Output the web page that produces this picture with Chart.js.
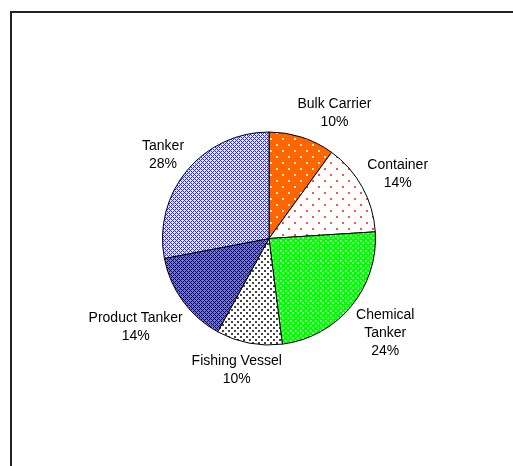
<!DOCTYPE html>
<html>
<head>
<meta charset="utf-8">
<script src="https://cdn.jsdelivr.net/npm/chart.js@4.4.1/dist/chart.umd.min.js"></script>
<style>
  body { margin: 0; background: #fff; }
  #wrap { position: relative; width: 513px; height: 466px; overflow: hidden; }
</style>
</head>
<body>
<div id="wrap"><canvas id="pie" width="513" height="466"></canvas></div>
<script>
const categories = ['Bulk Carrier', 'Container', 'Chemical Tanker', 'Fishing Vessel', 'Product Tanker', 'Tanker'];
const shares = [10, 14, 24, 10, 14, 28];

// pixel tiles standing in for the Excel fill patterns
function dotTile(bg, fg, size, dot) {
  const c = document.createElement('canvas');
  c.width = size; c.height = size;
  const g = c.getContext('2d');
  g.fillStyle = bg;
  g.fillRect(0, 0, size, size);
  g.fillStyle = fg;
  g.fillRect(0, 0, dot, dot);
  g.fillRect(size / 2, size / 2, dot, dot);
  return g.createPattern(c, 'repeat');
}

function hatchTile(bg, fg, size) {
  const c = document.createElement('canvas');
  c.width = size; c.height = size;
  const g = c.getContext('2d');
  g.fillStyle = bg;
  g.fillRect(0, 0, size, size);
  g.fillStyle = fg;
  for (let x = 0; x < size; x++) {
    for (let y = 0; y < size; y++) {
      if ((x + y) % size === 0 || (x - y + size) % size === 0) g.fillRect(x, y, 1, 1);
    }
  }
  return g.createPattern(c, 'repeat');
}

const fills = [
  dotTile('#ff6600', '#ffe6d6', 12, 2),
  dotTile('#ffffff', '#ff5050', 12, 2),
  dotTile('#00ff00', '#e6ffe6', 5, 1.5),
  dotTile('#ffffff', '#444444', 6, 2),
  hatchTile('#7878c0', '#000080', 4),
  hatchTile('#e4e4ff', '#2828ff', 4),
];

// small hand nudges so the text sits where Excel's best-fit put it
const labelNudge = [[18, 3], [0, 0], [4, 3], [-2, 0], [-1, 10], [0, 2]];

const frame = {
  id: 'frame',
  beforeDraw(chart) {
    const ctx = chart.ctx;
    ctx.save();
    ctx.strokeStyle = '#222';
    ctx.lineWidth = 2;
    ctx.beginPath();
    ctx.moveTo(11, 470);
    ctx.lineTo(11, 12);
    ctx.lineTo(520, 12);
    ctx.stroke();
    ctx.restore();
  }
};

const outsideLabels = {
  id: 'outsideLabels',
  afterDatasetsDraw(chart) {
    const ctx = chart.ctx;
    const total = shares.reduce((a, b) => a + b, 0);
    ctx.save();
    ctx.font = '14px "Liberation Sans", Arial, sans-serif';
    ctx.fillStyle = '#000';
    ctx.textAlign = 'center';
    ctx.textBaseline = 'middle';
    const lineH = 18;
    chart.getDatasetMeta(0).data.forEach((arc, i) => {
      const { x, y, startAngle, endAngle, outerRadius } = arc.getProps(['x', 'y', 'startAngle', 'endAngle', 'outerRadius'], true);
      const mid = (startAngle + endAngle) / 2;
      const dx = Math.cos(mid), dy = Math.sin(mid);
      const name = categories[i];
      const lines = ctx.measureText(name).width > 100 ? name.split(' ') : [name];
      lines.push(Math.round(shares[i] / total * 100) + '%');
      const w = Math.max(...lines.map(l => ctx.measureText(l).width));
      const h = lines.length * lineH;
      const ax = x + dx * (outerRadius + 10);
      const ay = y + dy * (outerRadius + 10);
      const cx = ax + dx * w / 2 + labelNudge[i][0];
      const cy = ay + dy * h / 2 + labelNudge[i][1];
      lines.forEach((l, k) => {
        ctx.fillText(l, cx, cy - h / 2 + lineH * (k + 0.5));
      });
    });
    ctx.restore();
  }
};

new Chart(document.getElementById('pie'), {
  type: 'pie',
  data: {
    labels: categories,
    datasets: [{
      data: shares,
      backgroundColor: fills,
      borderColor: '#000',
      borderWidth: 1,
      borderAlign: 'center',
    }]
  },
  options: {
    responsive: false,
    animation: false,
    layout: { padding: { left: 162, right: 137, top: 131, bottom: 120 } },
    plugins: {
      legend: { display: false },
      tooltip: { enabled: false },
    },
  },
  plugins: [frame, outsideLabels],
});
</script>
</body>
</html>
